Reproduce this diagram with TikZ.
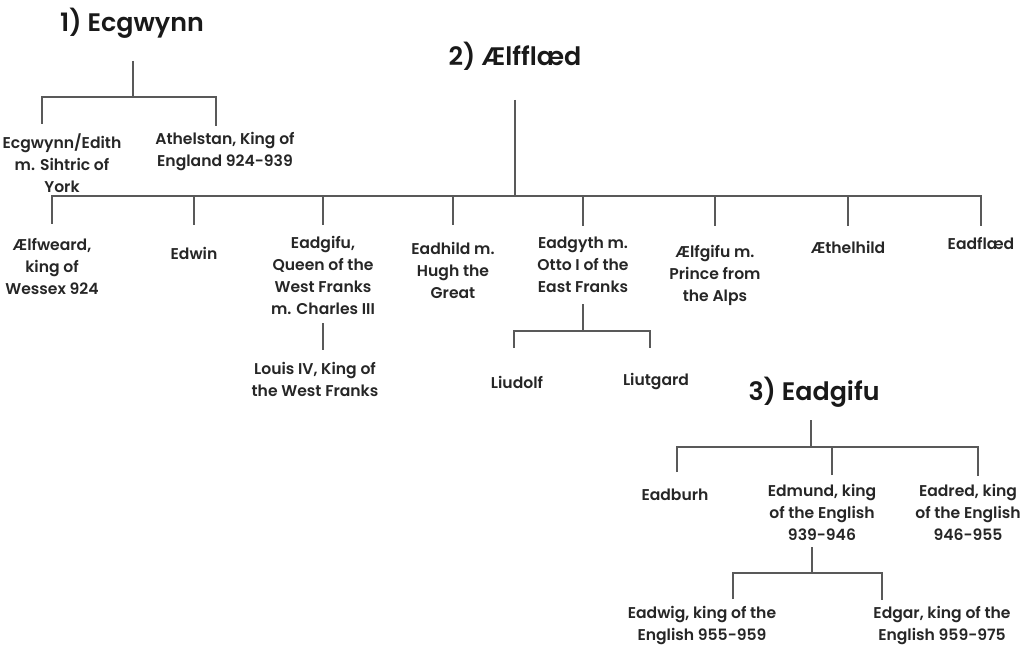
\documentclass[tikz,border=0pt]{standalone}
\usepackage{fontspec}
\IfFontExistsTF{Poppins SemiBold}
  {\setmainfont{Poppins SemiBold}}
  {\setmainfont{Poppins}[FakeBold=2]}
\begin{document}
\begin{tikzpicture}[x=0.75pt,y=-0.75pt,line width=0.9pt,
  person/.style={align=center,text=black!85,inner sep=1pt,
    font=\fontsize{11.7}{16.5}\selectfont},
  wife/.style={text=black!90,inner sep=1pt,font=\fontsize{19}{22}\selectfont},
  link/.style={draw=black!65}]
  \useasboundingbox (0,0) rectangle (1034,652);
  % 1) Ecgwynn
  \node[wife] (w1) at (132,23) {1) Ecgwynn};
  \node[person] (c11) at (62,163) {Ecgwynn/Edith\\m. Sihtric of\\York};
  \node[person] (c12) at (225,152) {Athelstan, King of\\England 924-939};
  \coordinate (j1) at (133,61);
  \coordinate (bar1) at (133,97);
  \coordinate (d11) at (42,124);
  \coordinate (d12) at (216,126);
  \draw[link] (j1) -- (bar1);
  \draw[link] (d11) |- (bar1) -| (d12);
  % 2) Aelfflaed
  \node[wife] (w2) at (515,56) {2) Ælfflæd};
  \node[person] (c21) at (52,266) {Ælfweard,\\king of\\Wessex 924};
  \node[person] (c22) at (194,253) {Edwin};
  \node[person] (c23) at (323,275) {Eadgifu,\\Queen of the\\West Franks\\m. Charles III};
  \node[person] (c24) at (453,270) {Eadhild m.\\Hugh the\\Great};
  \node[person] (c25) at (583,265) {Eadgyth m.\\Otto I of the\\East Franks};
  \node[person] (c26) at (715,275) {Ælfgifu m.\\Prince from\\the Alps};
  \node[person] (c27) at (848,247) {Æthelhild};
  \node[person] (c28) at (981,243) {Eadflæd};
  \coordinate (j2) at (515,100);
  \coordinate (bar2) at (515,196);
  \coordinate (d21) at (52,224);
  \coordinate (d22) at (194,225);
  \coordinate (d23) at (323,225);
  \coordinate (d24) at (453,225);
  \coordinate (d25) at (583,226);
  \coordinate (d26) at (715,226);
  \coordinate (d27) at (848,226);
  \coordinate (d28) at (981,226);
  \draw[link] (j2) -- (bar2);
  \draw[link] (d21) |- (bar2) -| (d28);
  \foreach \d in {d22,d23,d24,d25,d26,d27}
    \draw[link] (\d) -- (\d |- bar2);
  % grandchildren of Aelfflaed
  \node[person] (g231) at (315,379) {Louis IV, King of\\the West Franks};
  \coordinate (j23) at (323,323);
  \coordinate (d231) at (323,350);
  \draw[link] (j23) -- (d231);
  \node[person] (g251) at (517,382) {Liudolf};
  \node[person] (g252) at (656,382) {Liutgard};
  \coordinate (j25) at (583,304);
  \coordinate (bar25) at (583,331);
  \coordinate (d251) at (514,348);
  \coordinate (d252) at (650,348);
  \draw[link] (j25) -- (bar25);
  \draw[link] (d251) |- (bar25) -| (d252);
  % 3) Eadgifu
  \node[wife] (w3) at (814,392) {3) Eadgifu};
  \node[person] (c31) at (675,495) {Eadburh};
  \node[person] (c32) at (822,512) {Edmund, king\\of the English\\939-946};
  \node[person] (c33) at (968,512) {Eadred, king\\of the English\\946-955};
  \coordinate (j3) at (811,420);
  \coordinate (bar3) at (811,447);
  \coordinate (d31) at (677,472);
  \coordinate (d32) at (832,475);
  \coordinate (d33) at (978,476);
  \draw[link] (j3) -- (bar3);
  \draw[link] (d31) |- (bar3) -| (d33);
  \draw[link] (d32) -- (d32 |- bar3);
  % sons of Edmund
  \node[person] (g321) at (702,626) {Eadwig, king of the\\English 955-959};
  \node[person] (g322) at (942,626) {Edgar, king of the\\English 959-975};
  \coordinate (j32) at (812,547);
  \coordinate (bar32) at (812,573);
  \coordinate (d321) at (733,599);
  \coordinate (d322) at (882,600);
  \draw[link] (j32) -- (bar32);
  \draw[link] (d321) |- (bar32) -| (d322);
\end{tikzpicture}
\end{document}
